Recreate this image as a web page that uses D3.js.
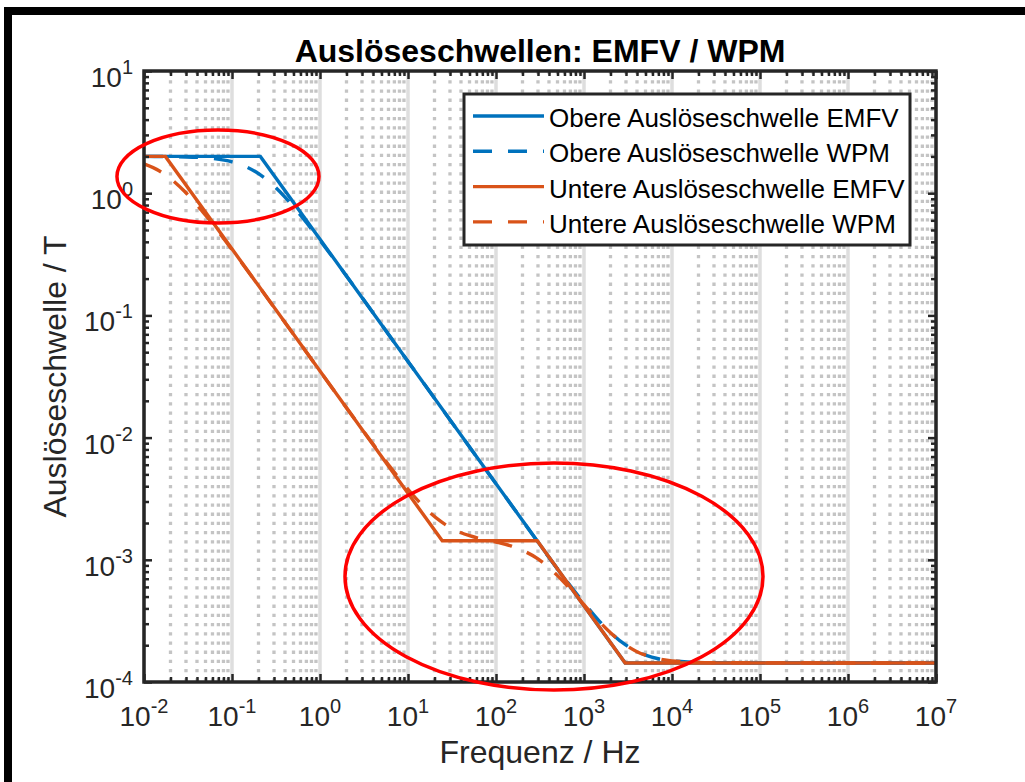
<!DOCTYPE html>
<html>
<head>
<meta charset="utf-8">
<script src="https://cdn.jsdelivr.net/npm/d3@7"></script>
<style>
  body { margin: 0; background: #fff; }
  svg text { font-family: "Liberation Sans", Arial, Helvetica, sans-serif; fill: #262626; }
</style>
</head>
<body>
<svg id="chart" width="1025" height="782"></svg>
<script>
// --- data (Hz / T) ---
var freqUpperEMFV = [0.01, 0.21, 2937, 1e7];
var valUpperEMFV  = [2, 2, 1.43e-4, 1.43e-4];

var freqUpperWPM = [0.01, 0.03, 0.06, 0.1, 0.15, 0.21, 0.3, 0.4, 0.5, 0.7, 1, 10, 100, 1000, 1500, 2000, 3000, 4000, 5000, 7000, 10000, 15000, 30000, 100000, 1e7];
var valUpperWPM  = [2.0, 1.98, 1.923, 1.806, 1.628, 1.414, 1.147, 0.930, 0.775, 0.575, 0.411, 0.042, 4.2e-3, 4.44e-4, 3.14e-4, 2.54e-4, 2.0e-4, 1.77e-4, 1.66e-4, 1.55e-4, 1.49e-4, 1.457e-4, 1.437e-4, 1.43e-4, 1.43e-4];

var freqLowerEMFV = [0.01, 0.0175, 24.5, 294, 2937, 1e7];
var valLowerEMFV  = [2, 2, 1.43e-3, 1.43e-3, 1.43e-4, 1.43e-4];

var freqLowerWPM = [0.01, 0.015, 0.02, 0.03, 0.05, 0.1, 0.3, 1, 3, 6, 10, 14, 18, 24, 30, 50, 70, 100, 150, 200, 300, 500, 700, 1000, 1500, 2000, 3000, 4000, 5000, 7000, 10000, 30000, 1e7];
var valLowerWPM  = [1.736, 1.518, 1.317, 1.008, 0.661, 0.345, 0.1165, 0.035, 0.01175, 6.0e-3, 3.78e-3, 2.88e-3, 2.41e-3, 2.04e-3, 1.84e-3, 1.574e-3, 1.478e-3, 1.398e-3, 1.295e-3, 1.195e-3, 1.018e-3, 7.42e-4, 5.74e-4, 4.29e-4, 3.11e-4, 2.53e-4, 2.0e-4, 1.77e-4, 1.658e-4, 1.55e-4, 1.49e-4, 1.437e-4, 1.43e-4];

var seriesNames = ["Obere Auslöseschwelle EMFV", "Obere Auslöseschwelle WPM",
                   "Untere Auslöseschwelle EMFV", "Untere Auslöseschwelle WPM"];

var xTickExp = [-2, -1, 0, 1, 2, 3, 4, 5, 6, 7];
var yTickExp = [-4, -3, -2, -1, 0, 1];

// red annotation ellipses: centre (Hz, T) and half axes in decades
var ellipseFreq = [0.0693, 456];
var ellipseVal  = [1.37, 7.3e-4];
var ellipseRx   = [1.148, 2.375];
var ellipseRy   = [0.38, 0.929];

var margin = {left: 144, right: 89, top: 71, bottom: 100};
var W = 1025, H = 782;

var svg = d3.select('#chart');

var x = d3.scaleLog().domain([1e-2, 1e7]).range([margin.left, W - margin.right]);
var y = d3.scaleLog().domain([1e-4, 1e1]).range([H - margin.bottom, margin.top]);

var x0 = x.range()[0], x1 = x.range()[1], y0 = y.range()[1], y1 = y.range()[0];

// outer black frame
svg.append('rect')
   .attr('x', 8).attr('y', 11)
   .attr('width', 1040).attr('height', 776)
   .style('fill', 'none').style('stroke', '#000').style('stroke-width', 8);

// plot background
svg.append('rect')
   .attr('x', x0).attr('y', y0).attr('width', x1 - x0).attr('height', y1 - y0)
   .style('fill', '#fff');

// grid
var majors = xTickExp.map(function(e){ return Math.pow(10, e); });
var minors = [];
for (var i = 0; i < xTickExp.length - 1; i++)
  for (var m = 2; m <= 9; m++)
    minors.push(m * Math.pow(10, xTickExp[i]));

var grid = svg.append('g');
grid.selectAll('.mgrid').data(majors).enter().append('line')
    .attr('x1', function(d){ return x(d); }).attr('x2', function(d){ return x(d); })
    .attr('y1', y0).attr('y2', y1)
    .style('stroke', '#dedede').style('stroke-width', 3.5);
grid.selectAll('.mingrid').data(minors).enter().append('line')
    .attr('x1', function(d){ return x(d); }).attr('x2', function(d){ return x(d); })
    .attr('y1', y0).attr('y2', y1)
    .style('stroke', '#c4c4c4').style('stroke-width', 3.3)
    .style('stroke-dasharray', '3.3 5.9');

// curves
svg.append('clipPath').attr('id', 'clip')
   .append('rect').attr('x', x0).attr('y', y0).attr('width', x1 - x0).attr('height', y1 - y0);

var line = d3.line()
  .x(function(d){ return x(d[0]); })
  .y(function(d){ return y(d[1]); });
var smooth = d3.line()
  .x(function(d){ return x(d[0]); })
  .y(function(d){ return y(d[1]); })
  .curve(d3.curveMonotoneX);

function zip(a, b){ return a.map(function(v, i){ return [v, b[i]]; }); }

var blue = '#0072BD', orange = '#D95319';
var series = [
  {data: zip(freqUpperEMFV, valUpperEMFV), color: blue, dash: null, gen: line},
  {data: zip(freqUpperWPM, valUpperWPM), color: blue, dash: '19 16', gen: smooth},
  {data: zip(freqLowerEMFV, valLowerEMFV), color: orange, dash: null, gen: line},
  {data: zip(freqLowerWPM, valLowerWPM), color: orange, dash: '19 16', gen: smooth}
];

var plot = svg.append('g').attr('clip-path', 'url(#clip)');
series.forEach(function(s){
  plot.append('path')
      .attr('d', s.gen(s.data))
      .style('fill', 'none')
      .style('stroke', s.color)
      .style('stroke-width', 3.4)
      .style('stroke-dasharray', s.dash);
});

// axes (ticks inside, mirrored on top/right)
var axisColor = '#262626';
function styleAxis(g){
  g.select('.domain').remove();
  g.selectAll('.tick line').style('stroke', axisColor).style('stroke-width', 2.5);
  g.selectAll('.tick text').remove();
}
var yMinors = [];
for (var i = 0; i < yTickExp.length - 1; i++)
  for (var m = 2; m <= 9; m++)
    yMinors.push(m * Math.pow(10, yTickExp[i]));
var yMajors = yTickExp.map(function(e){ return Math.pow(10, e); });

svg.append('g').attr('transform', 'translate(0,' + y1 + ')')
   .call(d3.axisBottom(x).tickValues(majors).tickSize(-8)).call(styleAxis);
svg.append('g').attr('transform', 'translate(0,' + y1 + ')')
   .call(d3.axisBottom(x).tickValues(minors).tickSize(-5)).call(styleAxis);
svg.append('g').attr('transform', 'translate(0,' + y0 + ')')
   .call(d3.axisTop(x).tickValues(majors).tickSize(-8)).call(styleAxis);
svg.append('g').attr('transform', 'translate(0,' + y0 + ')')
   .call(d3.axisTop(x).tickValues(minors).tickSize(-5)).call(styleAxis);
svg.append('g').attr('transform', 'translate(' + x0 + ',0)')
   .call(d3.axisLeft(y).tickValues(yMajors).tickSize(-8)).call(styleAxis);
svg.append('g').attr('transform', 'translate(' + x0 + ',0)')
   .call(d3.axisLeft(y).tickValues(yMinors).tickSize(-5)).call(styleAxis);
svg.append('g').attr('transform', 'translate(' + x1 + ',0)')
   .call(d3.axisRight(y).tickValues(yMajors).tickSize(-8)).call(styleAxis);
svg.append('g').attr('transform', 'translate(' + x1 + ',0)')
   .call(d3.axisRight(y).tickValues(yMinors).tickSize(-5)).call(styleAxis);

svg.append('rect')
   .attr('x', x0).attr('y', y0).attr('width', x1 - x0).attr('height', y1 - y0)
   .style('fill', 'none').style('stroke', axisColor).style('stroke-width', 3.5);

// tick labels with superscripts
function powLabel(sel, e){
  sel.append('tspan').text('10');
  sel.append('tspan').text(e).attr('dy', -13).style('font-size', '20px');
}
xTickExp.forEach(function(e){
  var t = svg.append('text')
     .attr('x', x(Math.pow(10, e))).attr('y', 726)
     .attr('text-anchor', 'middle').style('font-size', '28px');
  powLabel(t, e);
});
yTickExp.forEach(function(e){
  var t = svg.append('text')
     .attr('x', 133).attr('y', y(Math.pow(10, e)) + 16)
     .attr('text-anchor', 'end').style('font-size', '28px');
  powLabel(t, e);
});

// axis labels and title
svg.append('text')
   .attr('x', (x0 + x1) / 2).attr('y', 763)
   .attr('text-anchor', 'middle').style('font-size', '32px')
   .text('Frequenz / Hz');
svg.append('text')
   .attr('transform', 'translate(66,' + ((y0 + y1) / 2) + ') rotate(-90)')
   .attr('text-anchor', 'middle').style('font-size', '32px')
   .text('Auslöseschwelle / T');
svg.append('text')
   .attr('x', (x0 + x1) / 2).attr('y', 62)
   .attr('text-anchor', 'middle').style('font-size', '32px').style('font-weight', 'bold')
   .style('fill', '#000')
   .text('Auslöseschwellen: EMFV / WPM');

// legend
var legend = svg.append('g').attr('transform', 'translate(464,94)');
legend.append('rect')
      .attr('width', 446).attr('height', 151)
      .style('fill', '#fff').style('stroke', axisColor).style('stroke-width', 3);
series.forEach(function(s, i){
  var ly = 22 + i * 35.3;
  legend.append('line')
        .attr('x1', 9).attr('x2', 80).attr('y1', ly).attr('y2', ly)
        .style('stroke', s.color).style('stroke-width', 3.4)
        .style('stroke-dasharray', s.dash);
  legend.append('text')
        .attr('x', 85).attr('y', ly + 11)
        .style('font-size', '26px').style('fill', '#000')
        .text(seriesNames[i]);
});

// red annotation ellipses
ellipseFreq.forEach(function(f, i){
  var cx = x(f), cy = y(ellipseVal[i]);
  var rx = x(f * Math.pow(10, ellipseRx[i])) - cx;
  var ry = cy - y(ellipseVal[i] * Math.pow(10, ellipseRy[i]));
  svg.append('ellipse')
     .attr('cx', cx).attr('cy', cy).attr('rx', rx).attr('ry', ry)
     .style('fill', 'none').style('stroke', '#ff0000').style('stroke-width', 3.5);
});
</script>
</body>
</html>
